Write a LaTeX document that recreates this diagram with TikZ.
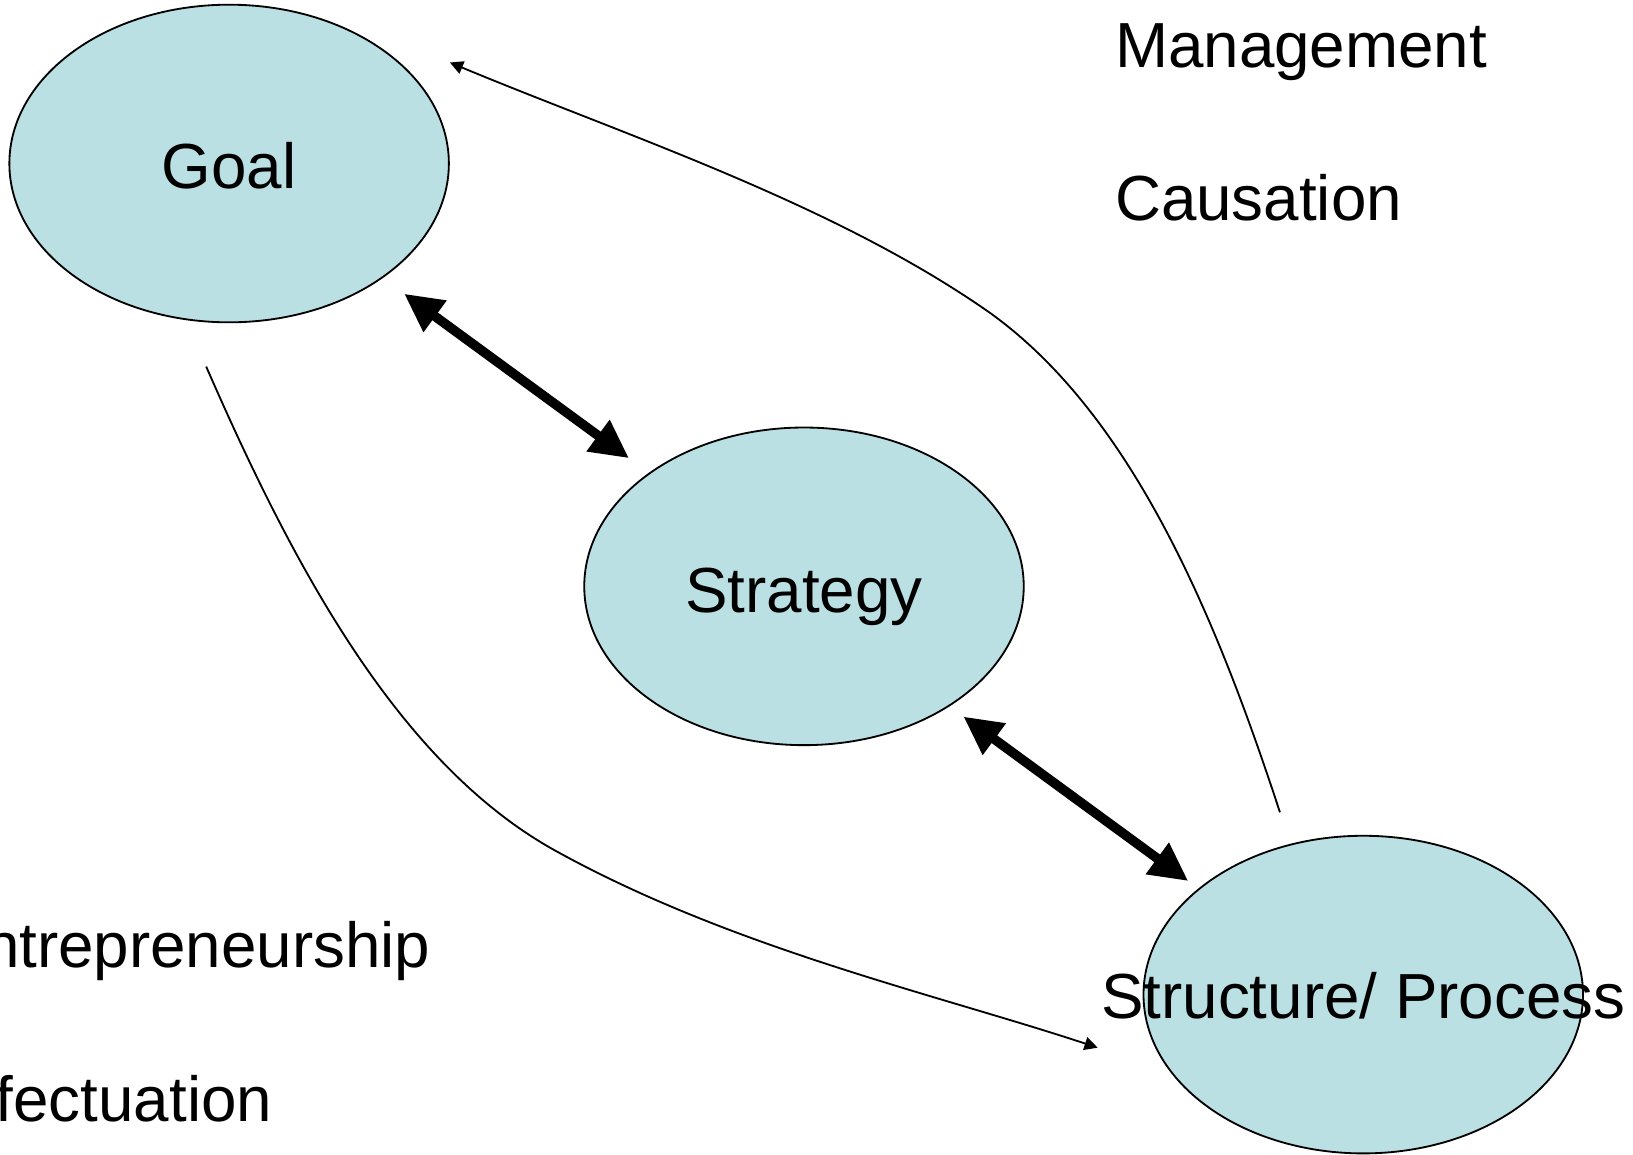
\documentclass[tikz,border=0pt]{standalone}
\usepackage{fontspec}
\setmainfont{Liberation Sans}
\usetikzlibrary{shapes.geometric,arrows.meta}
\definecolor{bubble}{RGB}{187,224,227}
\tikzset{
  bubble/.style={ellipse, draw=black, line width=0.5pt, fill=bubble,
    minimum width=422*0.01cm, minimum height=305*0.01cm, inner sep=0pt},
  word/.style={font=\fontsize{17.4pt}{20pt}\selectfont, inner sep=0pt},
  mutual/.style={line width=2.6pt, {Triangle[length=10.5pt,width=10pt]}-{Triangle[length=10.5pt,width=10pt]}},
  influence/.style={line width=0.5pt, -{Triangle[length=3.6pt,width=3.6pt]}}
}
\begin{document}
\begin{tikzpicture}[x=0.01cm,y=-0.01cm]
\useasboundingbox (0,0) rectangle (1568,1109);
\clip (0,0) rectangle (1568,1109);

% the three ellipses
\node[bubble] (goal) at (220,157) {};
\node[bubble] (strategy) at (772,563) {};
\node[bubble] (structure) at (1309,955) {};

\node[word, anchor=base] (goaltext) at (220,181) {Goal};
\node[word, anchor=base] (strategytext) at (772,588) {Strategy};
\node[word, anchor=base] (structuretext) at (1309,978) {Structure/ Process};

% side labels (the left ones run past the page edge)
\node[word, anchor=base west] (mgmt) at (1070,65) {Management};
\node[word, anchor=base west] (caus) at (1070,212) {Causation};
\node[word, anchor=base east] (entre) at (414,929) {Entrepreneurship};
\node[word, anchor=base east] (effect) at (262,1077) {Effectuation};

% arrow end points
\coordinate (gsA) at (388,282);
\coordinate (gsB) at (604,440);
\coordinate (ssA) at (925,688);
\coordinate (ssB) at (1141,846);
\coordinate (topStart) at (1229,780);
\coordinate (topEnd) at (432,60);
\coordinate (botStart) at (198,352);
\coordinate (botEnd) at (1054,1006);

% two-way links
\draw[mutual] (gsA) -- (gsB);
\draw[mutual] (ssA) -- (ssB);

% feedback curves
\draw[influence] (topStart) .. controls (1170,600) and (1090,400) .. (950,300)
  .. controls (800,195) and (600,130) .. (topEnd);
\draw[influence] (botStart) .. controls (280,540) and (380,730) .. (530,815)
  .. controls (700,910) and (900,955) .. (botEnd);
\end{tikzpicture}
\end{document}
